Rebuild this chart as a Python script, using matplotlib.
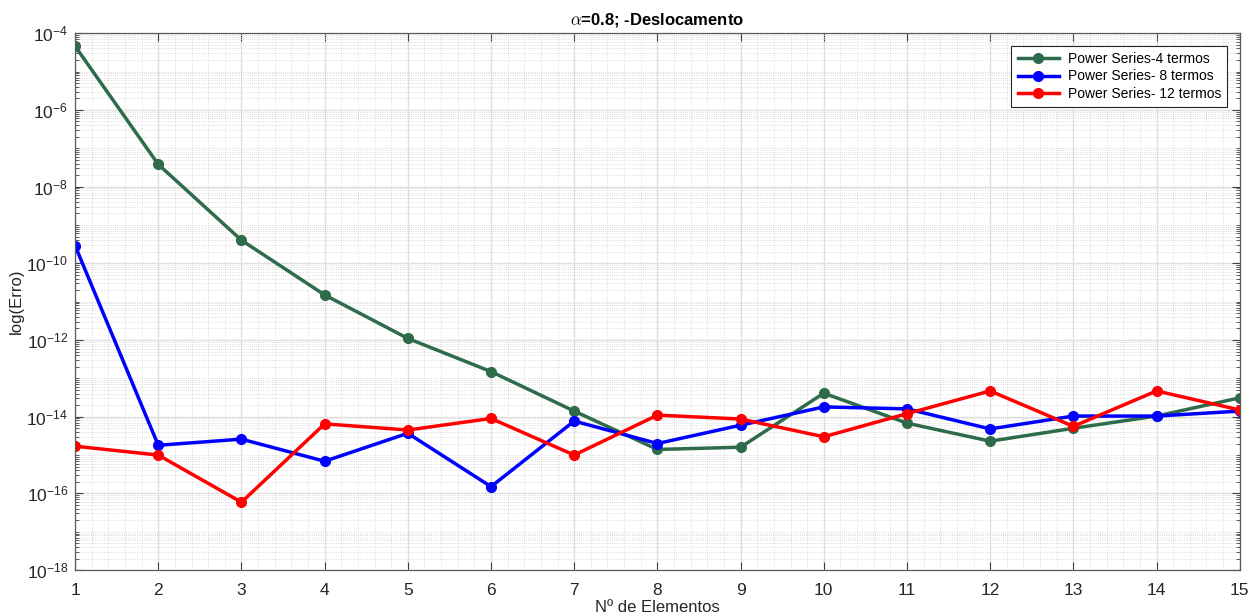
import numpy as np
import matplotlib
matplotlib.use("Agg")
import matplotlib.pyplot as plt
from matplotlib.ticker import LogLocator, MultipleLocator, NullFormatter, FuncFormatter

plt.rcParams['font.family'] = ['Liberation Sans', 'DejaVu Sans']
plt.rcParams['mathtext.fontset'] = 'custom'
plt.rcParams['mathtext.rm'] = 'Liberation Sans'
plt.rcParams['mathtext.it'] = 'Liberation Sans:italic'
plt.rcParams['axes.unicode_minus'] = False

elementos = np.arange(1, 16)
erro_4 = [4.6e-5, 3.8e-8, 4.0e-10, 1.5e-11, 1.1e-12, 1.5e-13, 1.4e-14, 1.4e-15,
          1.6e-15, 4.1e-14, 6.8e-15, 2.3e-15, 5.0e-15, 1.04e-14, 3.1e-14]
erro_8 = [2.9e-10, 1.8e-15, 2.6e-15, 6.9e-16, 3.7e-15, 1.5e-16, 7.7e-15, 2.0e-15,
          6.0e-15, 1.8e-14, 1.6e-14, 4.8e-15, 1.04e-14, 1.04e-14, 1.4e-14]
erro_12 = [1.7e-15, 1.0e-15, 5.9e-17, 6.5e-15, 4.5e-15, 9.0e-15, 1.0e-15, 1.1e-14,
           8.7e-15, 3.0e-15, 1.2e-14, 4.7e-14, 5.6e-15, 4.7e-14, 1.5e-14]
rotulos = ['Power Series-4 termos', 'Power Series- 8 termos', 'Power Series- 12 termos']
cores = ['#2e6b4b', '#0000ff', '#ff0000']

fig = plt.figure(figsize=(12.51, 6.15), dpi=100)
ax = fig.add_axes([0.06, 0.073, 0.931, 0.873])

for y, lab, c in zip([erro_4, erro_8, erro_12], rotulos, cores):
    ax.semilogy(elementos, y, '-o', color=c, lw=2.5, ms=7, label=lab)

ax.set_xlim(1, 15)
ax.set_ylim(1e-18, 1e-4)
ax.set_xticks(elementos)
ax.xaxis.set_minor_locator(MultipleLocator(0.2))
ax.set_yticks([10.0 ** k for k in range(-18, -3, 2)])
ax.yaxis.set_major_formatter(FuncFormatter(
    lambda v, p: r'10$^{\mathregular{%d}}$' % round(np.log10(v))))
ax.yaxis.set_minor_locator(LogLocator(base=10, subs=np.arange(1, 10), numticks=100))
ax.yaxis.set_minor_formatter(NullFormatter())

ax.grid(True, which='major', color='#e0e0e0', lw=1.0, ls='-')
ax.grid(True, which='minor', color='#d2d2d2', lw=0.6, ls=':')
ax.set_axisbelow(True)

ax.tick_params(which='both', direction='in', top=True, right=True, colors='#404040',
               labelsize=12.5, labelcolor='#262626')
ax.tick_params(which='major', length=6)
ax.tick_params(axis='x', which='major', pad=9)
ax.tick_params(axis='y', which='major', pad=5)
ax.tick_params(axis='y', which='minor', length=3)
ax.tick_params(axis='x', which='minor', length=0)
for s in ax.spines.values():
    s.set_color('#5a5a5a')
    s.set_linewidth(0.9)

ax.set_title(r'$\alpha$=0.8; -Deslocamento', fontsize=12, fontweight='bold', pad=6,
             math_fontfamily='cm')
ax.set_xlabel('Nº de Elementos', fontsize=12, color='#262626', labelpad=2)
ax.set_ylabel('log(Erro)', fontsize=12, color='#262626', labelpad=2)

leg = ax.legend(loc='upper right', fontsize=10, fancybox=False, framealpha=1,
                edgecolor='#262626', borderaxespad=0.9, handlelength=3.0,
                labelspacing=0.25, borderpad=0.45, handletextpad=0.6)
leg.get_frame().set_linewidth(0.8)

fig.savefig('out.png', dpi=100)
